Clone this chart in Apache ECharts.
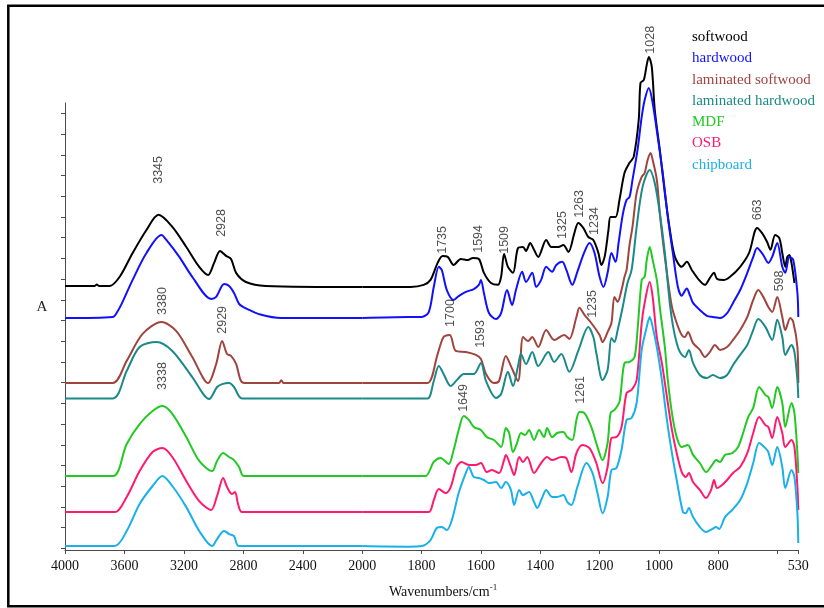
<!DOCTYPE html>
<html><head><meta charset="utf-8">
<script src="https://cdn.jsdelivr.net/npm/echarts@6/dist/echarts.min.js"></script>
<style>html,body{margin:0;padding:0;background:#fff}#c{width:824px;height:608px}</style>
</head><body><div id="c"></div>
<script>
const seriesNames = ['softwood','hardwood','laminated softwood','laminated hardwood','MDF','OSB','chipboard'];
const seriesColors = ['#000000','#1010ff','#a0443e','#1a8a88','#22c922','#ff1a6e','#1ab0ea'];

const softwood = [[4000,12.67],[3800,12.67],[3786,12.74],[3772,12.67],[3699,12.67],[3632,13.11],[3545,14.26],[3452,15.37],[3371,16.10],[3278,15.52],[3184,14.55],[3097,13.59],[3037,13.20],[2997,13.78],[2957,14.36],[2916,14.12],[2883,13.97],[2849,13.30],[2783,12.86],[2649,12.67],[2000,12.62],
[1837,12.62],[1793,12.72],[1770,12.96],[1746,13.78],[1729,14.11],[1712,14.07],[1692,13.68],[1668,13.97],[1644,13.92],[1627,14.02],[1607,13.97],[1590,13.30],[1566,12.81],[1543,12.72],[1532,13.11],[1522,14.21],[1509,13.59],[1492,13.30],[1475,14.50],[1458,14.55],[1448,14.36],[1434,14.74],[1421,14.41],[1407,14.07],[1380,14.89],[1363,14.55],[1339,14.55],[1322,14.65],[1305,14.31],[1285,15.22],[1272,15.71],[1255,15.47],[1238,15.03],[1221,14.89],[1204,14.26],[1194,13.68],[1183,14.07],[1170,15.37],[1163,16.00],[1146,16.00],[1133,16.82],[1116,18.12],[1099,18.61],[1085,18.90],[1068,20.69],[1062,22.47],[1051,22.61],[1041,23.34],[1034,23.72],[1024,23.24],[1014,21.17],[997,19.24],[980,17.16],[963,15.37],[946,14.07],[923,13.59],[906,13.83],[889,13.44],[865,12.96],[845,12.72],[828,13.06],[814,13.30],[804,13.01],[780,12.96],[760,13.11],[726,13.59],[696,14.26],[669,15.47],[652,15.22],[635,14.79],[624,14.41],[608,15.13],[594,14.98],[584,14.26],[574,13.59],[567,14.07],[560,14.16],[553,13.78],[543,12.81]];

const hardwood = [[4000,11.12],[3679,11.17],[3645,11.46],[3619,11.80],[3545,12.96],[3452,14.26],[3351,15.13],[3318,14.89],[3231,14.07],[3144,13.11],[3017,12.04],[2983,12.14],[2930,12.76],[2896,12.67],[2863,12.33],[2829,11.80],[2800,11.65],[2760,11.51],[2700,11.32],[2550,11.12],[2000,11.12],
[1844,11.17],[1800,11.17],[1776,11.41],[1759,12.62],[1742,13.59],[1732,13.44],[1715,12.47],[1692,11.99],[1675,12.18],[1651,12.38],[1624,12.52],[1607,12.72],[1600,12.96],[1590,12.33],[1573,11.36],[1549,11.07],[1532,11.36],[1512,12.47],[1495,11.75],[1482,12.47],[1461,13.35],[1448,12.86],[1427,13.30],[1414,12.62],[1397,12.96],[1380,13.59],[1360,13.35],[1346,13.68],[1326,13.83],[1312,13.44],[1292,12.72],[1275,13.35],[1251,14.31],[1234,14.74],[1217,14.26],[1200,13.11],[1187,12.62],[1173,13.30],[1160,14.26],[1146,13.83],[1136,14.74],[1122,16.10],[1109,16.82],[1099,16.96],[1089,17.79],[1072,19.24],[1058,20.83],[1048,21.65],[1034,22.23],[1021,21.50],[1004,19.86],[987,18.12],[970,16.00],[953,14.26],[936,12.62],[923,12.20],[906,12.55],[895,12.20],[885,11.85],[862,11.51],[838,11.22],[818,11.17],[794,11.12],[770,11.36],[750,11.85],[726,12.47],[702,13.30],[682,14.07],[669,14.50],[648,14.16],[631,13.78],[618,14.07],[601,14.74],[584,13.59],[574,13.30],[560,14.07],[547,13.92],[533,12.33],[530,11.17]];

const laminatedSoftwood = [[4000,7.98],[3679,7.98],[3585,9.05],[3478,10.35],[3351,10.93],[3251,10.49],[3144,9.24],[3037,7.98],[2983,8.90],[2943,10.01],[2910,9.38],[2883,9.29],[2849,8.90],[2816,8.08],[2783,7.98],[2560,7.98],[2545,8.12],[2530,7.98],[2000,7.98],
[1837,7.98],[1780,7.98],[1746,9.38],[1726,10.20],[1705,10.30],[1685,9.53],[1651,9.48],[1617,9.34],[1600,9.14],[1583,8.42],[1556,7.98],[1539,8.08],[1516,9.29],[1499,8.80],[1475,8.08],[1458,10.20],[1441,10.01],[1427,10.20],[1407,9.72],[1380,10.54],[1353,10.06],[1319,10.30],[1302,10.11],[1278,11.17],[1268,11.61],[1251,11.27],[1228,10.88],[1200,10.30],[1190,9.96],[1173,10.44],[1160,10.88],[1150,12.14],[1139,11.90],[1126,12.47],[1116,13.11],[1109,13.44],[1099,14.65],[1089,15.52],[1075,17.16],[1058,17.93],[1048,18.12],[1038,18.75],[1028,19.09],[1021,18.75],[1007,17.79],[997,16.19],[987,14.89],[973,13.30],[956,11.65],[940,10.88],[923,10.30],[912,10.20],[902,10.44],[885,9.91],[862,9.58],[845,9.24],[828,9.48],[811,9.82],[794,9.58],[770,9.72],[750,10.06],[726,10.54],[702,11.17],[682,11.99],[665,12.47],[648,12.14],[631,11.65],[618,11.41],[601,12.14],[584,11.17],[574,10.54],[557,11.12],[547,10.93],[533,9.72],[530,7.98]];

const laminatedHardwood = [[4000,7.24],[3679,7.24],[3585,8.56],[3498,9.72],[3385,9.96],[3278,9.53],[3144,8.27],[3030,7.21],[2977,7.79],[2943,7.93],[2896,7.98],[2863,7.79],[2809,7.24],[2000,7.24],
[1837,7.24],[1780,7.24],[1759,8.08],[1742,8.80],[1726,8.42],[1702,7.84],[1678,8.18],[1658,8.42],[1624,8.42],[1600,8.95],[1583,8.08],[1549,7.26],[1532,7.45],[1509,8.52],[1492,7.84],[1475,8.80],[1465,9.38],[1448,8.90],[1427,9.48],[1407,8.80],[1373,9.48],[1353,9.00],[1329,9.38],[1302,8.52],[1272,9.53],[1238,10.69],[1221,10.20],[1211,9.43],[1190,8.13],[1173,8.61],[1160,10.16],[1150,9.96],[1139,10.54],[1122,11.65],[1106,12.81],[1092,13.44],[1075,15.52],[1055,17.45],[1031,18.27],[1014,17.64],[997,16.19],[980,14.26],[963,11.80],[953,10.78],[940,9.91],[929,9.48],[912,9.24],[899,9.58],[885,8.95],[862,8.37],[838,8.22],[818,8.37],[794,8.22],[770,8.37],[750,8.85],[726,9.34],[702,9.82],[682,10.54],[665,11.07],[641,10.69],[618,10.06],[601,11.03],[584,10.20],[574,9.34],[553,9.82],[543,9.48],[533,8.13],[530,7.26]];

const mdf = [[4000,3.49],[3679,3.49],[3585,5.04],[3498,6.00],[3411,6.63],[3345,6.87],[3278,6.49],[3184,5.37],[3097,4.22],[3010,3.73],[2977,4.22],[2936,4.60],[2896,4.41],[2863,4.26],[2829,3.93],[2796,3.49],[2000,3.49],
[1844,3.49],[1787,3.49],[1759,4.17],[1736,4.36],[1709,4.07],[1692,4.75],[1675,5.71],[1658,6.39],[1641,6.20],[1624,5.86],[1600,5.71],[1580,5.37],[1556,5.23],[1532,4.89],[1516,5.81],[1505,5.57],[1492,4.65],[1478,5.09],[1465,5.57],[1451,5.47],[1438,5.71],[1421,5.23],[1404,5.71],[1387,5.37],[1377,5.81],[1360,5.37],[1343,5.57],[1322,5.62],[1309,5.37],[1292,5.23],[1278,6.20],[1268,6.58],[1251,6.53],[1228,5.86],[1207,4.89],[1190,4.26],[1173,5.09],[1163,6.53],[1150,6.68],[1133,7.07],[1116,8.95],[1099,9.00],[1082,9.24],[1072,10.54],[1058,12.96],[1048,13.11],[1041,13.92],[1031,14.55],[1021,13.92],[1007,12.96],[997,11.65],[980,9.72],[970,8.13],[956,6.53],[940,5.37],[923,4.89],[902,4.99],[885,4.51],[862,4.12],[841,3.68],[821,4.02],[807,4.26],[794,4.17],[777,4.51],[753,4.60],[733,4.89],[716,5.57],[699,6.34],[682,6.78],[662,7.79],[641,7.40],[631,7.31],[618,6.78],[601,7.79],[584,7.02],[574,5.86],[553,7.02],[543,6.53],[533,4.60],[530,3.64]];

const osb = [[4000,1.75],[3666,1.75],[3585,2.48],[3498,3.73],[3411,4.65],[3345,4.84],[3278,4.41],[3184,3.25],[3097,2.28],[3017,1.85],[2977,2.53],[2936,3.40],[2910,2.96],[2876,2.62],[2856,2.72],[2836,2.14],[2809,1.75],[2000,1.75],
[1844,1.75],[1776,1.75],[1759,2.33],[1742,2.86],[1719,2.67],[1702,2.96],[1682,3.93],[1665,4.17],[1641,4.02],[1617,4.02],[1600,4.12],[1580,3.68],[1563,3.78],[1539,3.64],[1522,4.26],[1516,4.51],[1499,3.93],[1488,3.54],[1471,4.41],[1458,4.17],[1444,4.41],[1421,3.64],[1397,4.12],[1377,4.41],[1360,4.26],[1329,4.41],[1312,4.36],[1295,3.68],[1278,4.60],[1258,4.99],[1234,4.84],[1211,4.12],[1190,3.15],[1173,3.93],[1160,5.33],[1143,5.37],[1126,5.86],[1109,7.50],[1092,7.65],[1075,8.13],[1058,10.88],[1048,11.85],[1031,12.86],[1021,12.14],[1007,10.20],[990,8.95],[973,7.31],[956,5.71],[940,4.60],[923,3.68],[909,3.44],[899,3.64],[885,3.20],[862,2.82],[841,2.43],[824,2.82],[814,3.30],[804,2.91],[787,3.06],[770,3.30],[750,3.64],[726,3.93],[702,4.60],[682,5.57],[662,6.34],[641,5.95],[631,5.86],[618,5.33],[601,6.34],[584,5.57],[574,4.89],[553,5.23],[543,4.89],[533,2.96],[530,1.85]];

const chipboard = [[4000,0.11],[3666,0.11],[3585,0.84],[3498,2.14],[3411,3.01],[3345,3.49],[3278,3.01],[3184,1.99],[3097,0.84],[3010,0.11],[2977,0.45],[2930,0.84],[2896,0.69],[2863,0.59],[2829,0.11],[2000,0.11],
[1844,0.08],[1800,0.11],[1770,0.40],[1749,0.98],[1732,1.03],[1715,0.88],[1698,1.37],[1675,2.67],[1651,3.64],[1641,3.93],[1624,3.44],[1607,3.40],[1590,3.30],[1573,3.15],[1549,3.20],[1532,2.91],[1516,3.20],[1499,2.82],[1488,2.09],[1471,2.82],[1458,2.57],[1438,2.72],[1421,2.24],[1410,1.95],[1394,2.43],[1380,2.82],[1360,2.48],[1343,2.48],[1322,2.57],[1309,2.24],[1295,2.09],[1275,2.96],[1244,4.12],[1224,3.64],[1207,2.67],[1190,1.70],[1173,2.48],[1160,3.78],[1143,3.88],[1126,4.75],[1109,6.20],[1092,6.29],[1075,7.02],[1058,9.58],[1041,10.69],[1031,11.17],[1021,10.69],[1007,9.72],[990,8.13],[973,6.20],[956,4.60],[940,3.30],[919,1.75],[909,1.70],[899,1.95],[885,1.51],[862,1.03],[841,0.79],[821,0.93],[807,1.03],[797,0.93],[777,1.51],[753,1.85],[726,2.33],[702,3.15],[682,4.12],[662,5.09],[641,4.84],[631,4.65],[618,4.02],[601,4.89],[584,3.93],[574,2.91],[553,3.78],[543,3.44],[533,1.70],[530,0.26]];

const xTicksLeft = [4000,3600,3200,2800,2400,2000];
const xTicksRight = [1800,1600,1400,1200,1000,800,600,530];
const xLabelsRight = [1800,1600,1400,1200,1000,800,530];
const yTicks = [0,1,2,3,4,5,6,7,8,9,10,11,12,13,14,15,16,17,18,19,20,21];

const peakText  = ['3345','2928','3380','2929','3338','1735','1594','1509','1325','1263','1234','1028','663','598','1700','1593','1235','1649','1261'];
const peakWave  = [3371,2950,3344,2943,3345,1729,1607,1522,1326,1268,1217,1028,669,594,1702,1600,1224,1658,1265];
const peakLevel = [18.27,15.71,11.94,11.03,8.32,14.89,14.94,14.89,15.61,16.63,15.80,24.55,16.34,12.91,11.36,10.35,11.80,7.26,7.65];

const allData = [softwood, hardwood, laminatedSoftwood, laminatedHardwood, mdf, osb, chipboard];
const BREAK = 2000;
function part(d, lo, hi) { return d.filter(p => p[0] >= lo && p[0] <= hi); }

const axisColor = '#4a4a4a';
const serif = 'Liberation Serif';

const series = [];
allData.forEach((d, i) => {
  [[0, BREAK, 4000], [1, 530, BREAK]].forEach(([g, lo, hi]) => {
    series.push({
      type: 'line', name: seriesNames[i], xAxisIndex: g, yAxisIndex: g,
      data: part(d, lo, hi), showSymbol: false, smooth: 0.3, clip: false,
      lineStyle: { width: 2, color: seriesColors[i] }, itemStyle: { color: seriesColors[i] },
      silent: true
    });
  });
});
[0, 1].forEach(g => {
  const items = [];
  peakText.forEach((t, k) => {
    const inLeft = peakWave[k] > BREAK;
    if ((g === 0) === inLeft) items.push({ name: t, value: [peakWave[k], peakLevel[k]] });
  });
  series.push({
    type: 'scatter', xAxisIndex: g, yAxisIndex: g, data: items, symbolSize: 1, clip: false,
    itemStyle: { color: 'rgba(0,0,0,0)' }, silent: true, z: 5,
    label: { show: true, position: 'inside', rotate: 90, formatter: '{b}', color: '#222',
      fontSize: 12.5, fontFamily: 'Liberation Sans' },
    labelLayout: { hideOverlap: false }
  });
});

function xAxis(g, min, max, ticks, labels) {
  return {
    gridIndex: g, type: 'value', min, max, inverse: true,
    axisLine: { show: true, onZero: false, lineStyle: { color: axisColor, width: 1 } },
    axisTick: { show: true, customValues: ticks, length: 4, lineStyle: { color: axisColor } },
    axisLabel: { show: true, customValues: labels, showMinLabel: true, showMaxLabel: true,
      formatter: v => String(v),
      fontFamily: serif, fontSize: 14, color: '#111', margin: 9 },
    splitLine: { show: false }
  };
}

const option = {
  animation: false,
  backgroundColor: '#fff',
  grid: [
    { left: 65, top: 103, width: 297.3, height: 447 },
    { left: 362.3, top: 103, width: 436, height: 447 }
  ],
  xAxis: [
    xAxis(0, BREAK, 4000, xTicksLeft, xTicksLeft),
    xAxis(1, 530, BREAK, xTicksRight, xLabelsRight)
  ],
  yAxis: [
    { gridIndex: 0, type: 'value', min: -0.08, max: 21.5,
      axisLine: { show: true, onZero: false, lineStyle: { color: axisColor } },
      axisTick: { show: true, customValues: yTicks, length: 4, lineStyle: { color: axisColor } },
      axisLabel: { show: false }, splitLine: { show: false } },
    { gridIndex: 1, type: 'value', min: -0.08, max: 21.5, show: false, splitLine: { show: false } }
  ],
  legend: {
    orient: 'vertical', left: 682, top: 24, itemWidth: 0, itemHeight: 0, itemGap: 5.3,
    selectedMode: false,
    textStyle: { fontFamily: serif, fontSize: 15, lineHeight: 16 },
    data: seriesNames.map((n, i) => ({ name: n, icon: 'rect', textStyle: { color: seriesColors[i] } }))
  },
  graphic: [
    { type: 'rect', silent: true, z: 100,
      shape: { x: 8.3, y: 5.7, width: 818, height: 600.6 },
      style: { fill: 'none', stroke: '#000', lineWidth: 2.5 } },
    { type: 'text', silent: true, x: 42, y: 307,
      style: { text: 'A', fontFamily: serif, fontSize: 15, fill: '#222', align: 'center', verticalAlign: 'middle' } },
    { type: 'text', silent: true, x: 389, y: 592,
      style: { text: '{a|Wavenumbers/cm}{b|-1}', verticalAlign: 'middle', fill: '#111',
        rich: { a: { fontFamily: serif, fontSize: 14, fill: '#111' },
                b: { fontFamily: serif, fontSize: 9, fill: '#111', padding: [0, 0, 9, 0] } } } }
  ],
  series
};
const chart = echarts.init(document.getElementById('c'));
chart.setOption(option);
</script>
</body></html>
